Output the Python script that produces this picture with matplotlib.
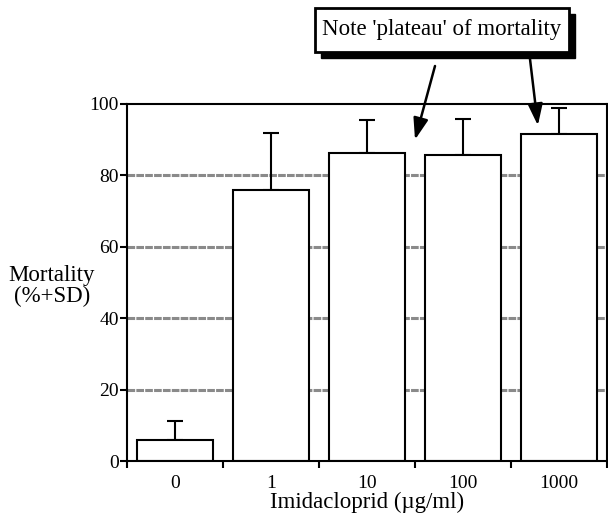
import matplotlib
matplotlib.use("Agg")
import matplotlib.pyplot as plt
from matplotlib.patches import Rectangle

plt.rcParams['font.family'] = ['Liberation Serif', 'DejaVu Serif']

# data
doses = ['0', '1', '10', '100', '1000']
mortality = [6, 76, 86.3, 85.7, 91.5]
sd = [5.3, 16, 9.2, 10.2, 7.5]
grid_levels = [20, 40, 60, 80]

fig = plt.figure(figsize=(6.08, 5.17), dpi=100)
ax = fig.add_axes([127 / 608, 56 / 517, 480 / 608, 357 / 517])

for g in grid_levels:
    ax.axhline(g, color='#8a8a8a', lw=2.2, ls=(0, (2.5, 0.4)), zorder=0)

x = range(len(doses))
ax.bar(x, mortality, width=0.8, color='white', edgecolor='black', lw=1.5, zorder=2)
ax.errorbar(x, mortality, yerr=[[0] * len(sd), sd], fmt='none', ecolor='black',
            elinewidth=1.5, capsize=6, capthick=1.5, zorder=1)

ax.set_xlim(-0.5, len(doses) - 0.5)
ax.set_ylim(0, 100)
ax.set_yticks([0, 20, 40, 60, 80, 100])
ax.set_xticks([i - 0.5 for i in range(len(doses) + 1)])
ax.set_xticklabels([])
ax.set_xticks(list(x), minor=True)
ax.set_xticklabels(doses, minor=True)
ax.tick_params(axis='x', which='minor', length=0, pad=10, labelsize=14)
ax.tick_params(axis='x', which='major', length=5, width=1.5, direction='out')
ax.tick_params(axis='y', length=5, width=1.5, direction='out', pad=1, labelsize=14)
for s in ax.spines.values():
    s.set_linewidth(1.5)

ax.set_xlabel('Imidacloprid (\u00b5g/ml)', fontsize=16.5, labelpad=0)
fig.text(52 / 608, 1 - 286 / 517, 'Mortality\n(%+SD)', ha='center', va='center',
         fontsize=16.5, linespacing=1.05)

# note box with drop shadow
bx, by, bw, bh = 315, 8, 254, 44
sh = 6
fig.patches.append(Rectangle(((bx + sh) / 608, 1 - (by + bh + sh) / 517), bw / 608, bh / 517,
                             transform=fig.transFigure, facecolor='black', edgecolor='black',
                             zorder=5))
fig.patches.append(Rectangle((bx / 608, 1 - (by + bh) / 517), bw / 608, bh / 517,
                             transform=fig.transFigure, facecolor='white', edgecolor='black',
                             lw=2, zorder=6))
fig.text((bx + bw / 2) / 608, 1 - (by + bh / 2) / 517, "Note 'plateau' of mortality",
         ha='center', va='center', fontsize=16.5, zorder=7)

arrow = dict(arrowstyle='-|>,head_length=1.3,head_width=0.45', color='black', lw=1.8,
             shrinkA=0, shrinkB=0)
ax.annotate('', xy=(2.5, 90), xytext=(435 / 608, 1 - 66 / 517),
            textcoords='figure fraction', arrowprops=arrow, annotation_clip=False)
ax.annotate('', xy=(3.78, 94), xytext=(530 / 608, 1 - 59 / 517),
            textcoords='figure fraction', arrowprops=arrow, annotation_clip=False)

fig.savefig('out.png', dpi=100)
